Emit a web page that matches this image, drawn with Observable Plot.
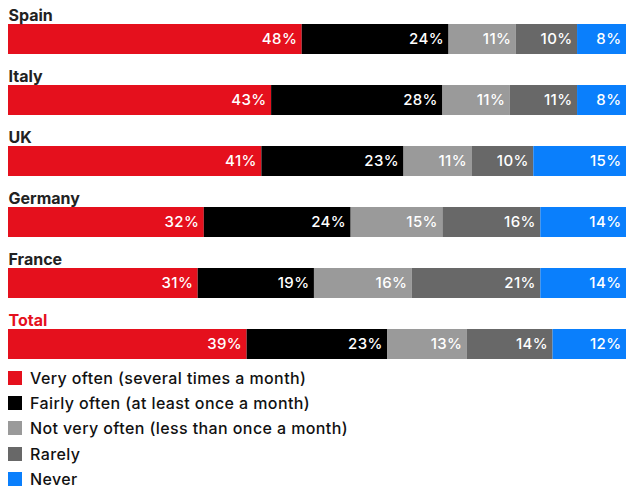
<!DOCTYPE html>
<html>
<head>
<meta charset="utf-8">
<script src="https://cdn.jsdelivr.net/npm/d3@7"></script>
<script src="https://cdn.jsdelivr.net/npm/@observablehq/plot@0.6"></script>
<style>
  html, body { margin: 0; padding: 0; background: #fff; }
  body { width: 626px; font-family: Inter, "Noto Sans", sans-serif; overflow: hidden; }
  #chart svg { display: block; }
  #legend { margin-top: 1px; padding-left: 8px; }
  .item { display: flex; align-items: center; height: 25.3px; font-size: 16px; font-weight: 500; color: #111; letter-spacing: 0.4px; }
  .sw { width: 14px; height: 14px; margin-right: 8px; flex: none; }
  .seg { letter-spacing: 0.4px; }
</style>
</head>
<body>
<div id="chart"></div>
<div id="legend"></div>
<script>
const countries = ["Spain", "Italy", "UK", "Germany", "France", "Total"];
const categories = [
  "Very often (several times a month)",
  "Fairly often (at least once a month)",
  "Not very often (less than once a month)",
  "Rarely",
  "Never"
];
const colors = ["#e5101d", "#000000", "#9a9a9a", "#686868", "#0a7ffc"];
const veryOften    = [48, 43, 41, 32, 31, 39];
const fairlyOften  = [24, 28, 23, 24, 19, 23];
const notVeryOften = [11, 11, 11, 15, 16, 13];
const rarely       = [10, 11, 10, 16, 21, 14];
const never        = [8, 8, 15, 14, 14, 12];
const series = [veryOften, fairlyOften, notVeryOften, rarely, never];

const data = [];
countries.forEach((c, i) => {
  categories.forEach((cat, j) => {
    data.push({country: c, category: cat, value: series[j][i]});
  });
});

const chart = Plot.plot({
  width: 626,
  height: 364,
  marginLeft: 8,
  marginRight: 0,
  marginTop: 24,
  marginBottom: 3,
  style: {fontFamily: "Inter, 'Noto Sans', sans-serif", background: "#fff"},
  x: {axis: null, domain: [0, 1]},
  y: {axis: null, domain: countries, paddingInner: 0.511, paddingOuter: 0, align: 0},
  color: {domain: categories, range: colors},
  marks: [
    Plot.barX(data, Plot.stackX({
      x: "value", y: "country", fill: "category", z: "category",
      order: categories, offset: "normalize"
    })),
    Plot.text(data, Plot.stackX2({
      x: "value", y: "country", z: "category",
      order: categories, offset: "normalize",
      text: d => d.value + "%",
      textAnchor: "end", dx: -5, fill: "white",
      fontSize: 15, fontWeight: 500, className: "seg"
    })),
    Plot.text(countries, {
      y: d => d, text: d => d, frameAnchor: "left", textAnchor: "start",
      lineAnchor: "bottom", dy: -19,
      fill: d => d === "Total" ? "#e5101d" : "#222",
      fontSize: 16, fontWeight: 700
    })
  ]
});
document.getElementById("chart").appendChild(chart);

const legend = d3.select("#legend");
categories.forEach((cat, j) => {
  const it = legend.append("div").attr("class", "item");
  it.append("div").attr("class", "sw").style("background", colors[j]);
  it.append("span").text(cat);
});
</script>
</body>
</html>
